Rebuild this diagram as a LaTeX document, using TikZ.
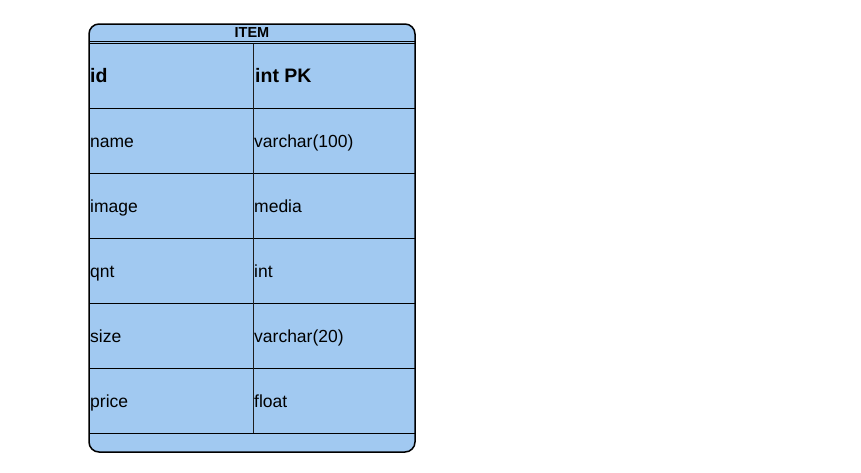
\documentclass[tikz,border=0pt]{standalone}
\usepackage{fontspec}
\setmainfont{Liberation Sans}
\definecolor{cellblue}{RGB}{161,201,241}
\definecolor{gridline}{RGB}{30,30,30}
\begin{document}
\begin{tikzpicture}[x=1pt,y=-1pt,
  celltext/.style={anchor=base west,inner sep=0pt,font=\fontsize{17.5}{20}\selectfont},
  headtext/.style={anchor=base west,inner sep=0pt,font=\fontsize{19.5}{22}\selectfont\bfseries},
  titletext/.style={anchor=base,inner sep=0pt,font=\fontsize{14.5}{16}\selectfont\bfseries},
  rowline/.style={draw=black,line width=1pt},
  colline/.style={draw=gridline,line width=1pt}]
\useasboundingbox (0,0) rectangle (861,472);
\fill[white] (0,0) rectangle (861,472);
% outer table
\draw[fill=cellblue,line width=1.5pt,rounded corners=10pt] (89,24) rectangle (415,452);
% title separator (double)
\draw[rowline] (89,41) -- (415,41);
\draw[rowline] (89,43.5) -- (415,43.5);
% row lines
\foreach \yy in {108,173,238,303,368,433} {\draw[rowline] (89,\yy) -- (415,\yy);}
% column divider
\draw[colline] (253,43.5) -- (253,433);
% title
\node[titletext] (title) at (252,37.5) {ITEM};
% header
\node[headtext] (idk) at (90,82) {id};
\node[headtext] (idv) at (255,82) {int PK};
% rows
\node[celltext] (n1) at (90,147.5) {name};
\node[celltext] (v1) at (254,147.5) {varchar(100)};
\node[celltext] (n2) at (90,212.5) {image};
\node[celltext] (v2) at (254,212.5) {media};
\node[celltext] (n3) at (90,277.5) {qnt};
\node[celltext] (v3) at (254,277.5) {int};
\node[celltext] (n4) at (90,342.5) {size};
\node[celltext] (v4) at (254,342.5) {varchar(20)};
\node[celltext] (n5) at (90,407.5) {price};
\node[celltext] (v5) at (254,407.5) {float};
\end{tikzpicture}
\end{document}
